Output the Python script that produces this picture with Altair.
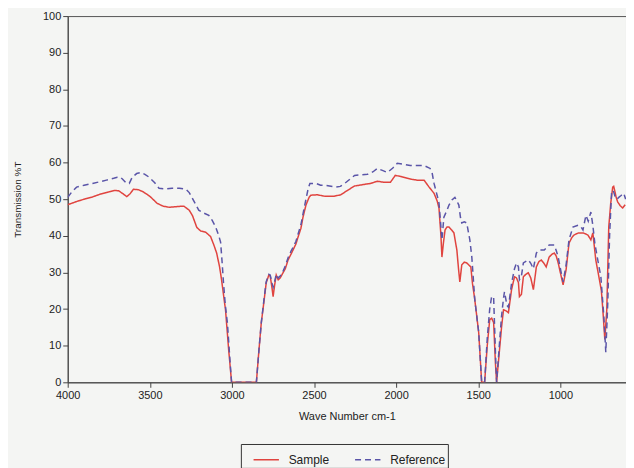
import altair as alt
import pandas as pd

sample_wn = [4000,3950,3900,3850,3800,3750,3716,3690,3667,3640,3620,3600,3570,3540,3500,3456,3420,3383,3330,3293,3260,3240,3214,3190,3160,3130,3110,3093,3075,3063,3050,3039,3020,3002,2851,2835,2821,2805,2791,2775,2767,2755,2749,2740,2730,2718,2706,2690,2675,2658,2640,2628,2610,2597,2580,2567,2549,2530,2519,2480,2434,2380,2337,2300,2253,2200,2156,2114,2071,2035,2005,1970,1932,1900,1872,1830,1799,1769,1750,1739,1727,1721,1712,1702,1690,1678,1660,1648,1630,1620,1612,1600,1585,1570,1545,1535,1521,1497,1479,1461,1445,1430,1418,1406,1395,1388,1370,1358,1346,1330,1316,1297,1279,1267,1255,1249,1237,1225,1210,1195,1180,1164,1146,1130,1116,1100,1086,1068,1050,1037,1025,1013,995,983,965,947,930,917,890,862,845,832,814,802,795,784,765,750,741,729,717,705,693,681,675,669,660,650,635,620,605]
sample_t = [48.5,49.3,50.0,50.6,51.4,52.0,52.4,52.3,51.6,50.7,51.5,52.7,52.6,52.0,50.8,48.9,48.1,47.8,48.0,48.1,47.0,45.5,42.3,41.3,41.0,39.8,37.5,35.3,31.5,28.0,23.5,19.8,9.0,0,0,9,16.3,22,27.2,29.3,29.1,25.5,23.4,26.5,29.3,28.0,28.5,29.8,31.0,33.4,35.0,36.1,37.8,39.7,42.0,45.1,48.4,50.5,51.1,51.2,50.8,50.8,51.2,52.3,53.6,54.0,54.3,54.9,54.6,54.6,56.5,56.2,55.7,55.4,55.2,55.2,53.3,51.6,49.5,47.6,40,34.2,38,41.6,42.4,42.4,41.5,40.8,36.1,31,27.4,32.1,32.8,32.6,31.5,27,22.6,13.6,0,0,10,17.1,17.5,16.3,5,0,9,15,19.8,19.5,19.0,25.3,28.8,28.5,27.2,23.4,24,28.8,29.5,29.9,28.5,25.3,31.5,33.0,33.4,32.5,31.5,34.2,35.0,35.3,34.5,32.6,29,26.6,30.7,38,39.5,40.2,40.8,40.8,40.5,40.2,38.9,40.8,38,33.4,28.8,25,19.8,11.7,19.8,42.4,48.9,53.3,53.5,52.4,50.5,49.2,48.2,47.6,48.5]

ref_wn = [4000,3975,3946,3900,3849,3800,3764,3720,3698,3680,3667,3645,3625,3607,3580,3553,3530,3504,3470,3444,3400,3365,3320,3280,3260,3244,3220,3202,3170,3141,3120,3099,3080,3069,3060,3051,3040,3027,3015,3002,2851,2835,2821,2805,2791,2775,2767,2755,2749,2740,2730,2718,2706,2690,2675,2658,2640,2628,2610,2597,2580,2567,2549,2535,2525,2488,2460,2428,2367,2340,2313,2280,2253,2174,2140,2114,2080,2053,2020,1993,1950,1914,1872,1830,1793,1780,1769,1750,1739,1728,1721,1709,1690,1678,1660,1642,1630,1618,1608,1600,1585,1570,1551,1539,1521,1497,1479,1461,1445,1430,1418,1406,1395,1388,1370,1358,1346,1340,1325,1316,1297,1279,1267,1255,1249,1237,1225,1210,1195,1180,1164,1146,1128,1098,1068,1037,1025,1013,995,983,965,947,923,892,875,862,844,830,814,802,790,772,753,735,723,711,700,693,687,675,665,655,644,630,614,602]
ref_t = [50.5,52,53.3,53.8,54.3,54.8,55.2,55.7,56.0,56.0,55.5,54.5,54.3,56.0,57.0,57.3,56.8,56.0,54.5,53.0,52.8,53.0,53.0,52.7,51.8,50.5,48.5,47.0,46.2,45.6,44.2,42.4,40,38.3,33,27,21,16,8,0,0,9,16.3,22.5,27.5,29.5,29.3,27,26,27.5,29.5,28.5,29,30.2,31.8,34,35.8,36.8,38.5,40.5,43,46,50,53,54.3,54.3,53.8,53.8,53.3,53.5,54.3,55.5,56.5,56.8,57.5,58.4,57.8,57.3,58.5,59.8,59.5,59.2,59.2,59.2,58.4,57,54.3,51,48.9,43,38.9,45.1,47,48.4,49.8,50.5,49.5,48.4,45,43.5,43.8,43.5,38.9,34.2,22.6,13.6,0,0,12,20,23.5,23.1,8,0,11,18,23,24.7,21,20.5,27,31,32.6,31.5,28,29,32.6,33,33.4,32.5,31,35.3,36.1,36.1,37.5,37.5,36,34.2,30,27.4,32,38.9,42.4,42.9,42.5,41.6,45.6,44,46.5,42.9,38,33.4,28.8,18,8.2,21.7,40,47,52.4,52,50.5,50,50.5,51,51.6,50]

series_names = ["Sample", "Reference"]
x_ticks = [4000, 3500, 3000, 2500, 2000, 1500, 1000]
y_ticks = [0, 10, 20, 30, 40, 50, 60, 70, 80, 90, 100]

df = pd.concat([
    pd.DataFrame({"wn": sample_wn, "t": sample_t, "series": "Sample", "order": range(len(sample_wn))}),
    pd.DataFrame({"wn": ref_wn, "t": ref_t, "series": "Reference", "order": range(len(ref_wn))}),
])

font = "Liberation Sans"

legend_kw = dict(title=None, orient="none", legendX=174, legendY=430,
                 direction="horizontal", symbolType="stroke",
                 symbolSize=650, symbolStrokeWidth=1.5, symbolOffset=10,
                 labelFont=font, labelFontSize=12, labelColor="#222", labelOffset=9,
                 strokeColor="#333", padding=2, columnPadding=15)

chart = alt.Chart(df).mark_line(strokeWidth=1.5, clip=True).encode(
    x=alt.X("wn:Q", title="Wave Number cm-1",
            scale=alt.Scale(domain=[600, 4000], reverse=True, nice=False, zero=False),
            axis=alt.Axis(values=x_ticks, format="d", grid=False, labelFont=font, labelFontSize=11,
                          labelColor="#222", titleFont=font, titleFontSize=11,
                          titleFontWeight="normal", titleColor="#222", titlePadding=10,
                          domainColor="#444", tickColor="#444", labelFlush=False)),
    y=alt.Y("t:Q", title="Transmission %T",
            scale=alt.Scale(domain=[0, 100], nice=False),
            axis=alt.Axis(values=y_ticks, format="d", grid=False, labelFont=font, labelFontSize=11,
                          labelColor="#222", titleFont=font, titleFontSize=10,
                          titleFontWeight="normal", titleColor="#222", titlePadding=20,
                          domainColor="#444", tickColor="#444")),
    color=alt.Color("series:N",
                    scale=alt.Scale(domain=series_names, range=["#e0443f", "#5a55a8"]),
                    legend=alt.Legend(**legend_kw)),
    strokeDash=alt.StrokeDash("series:N",
                              scale=alt.Scale(domain=series_names, range=[[1, 0], [6, 4]]),
                              legend=alt.Legend(**legend_kw)),
    order="order:Q",
    detail="series:N",
).properties(
    width=561, height=368,
    autosize=alt.AutoSizeParams(type="none"),
    padding={"left": 60, "top": 7, "right": 0, "bottom": 85},
    background="#f4f5f3",
).configure_view(stroke="#555", strokeWidth=1)

chart.save("out.html", embed_options={"renderer": "svg", "actions": False})
